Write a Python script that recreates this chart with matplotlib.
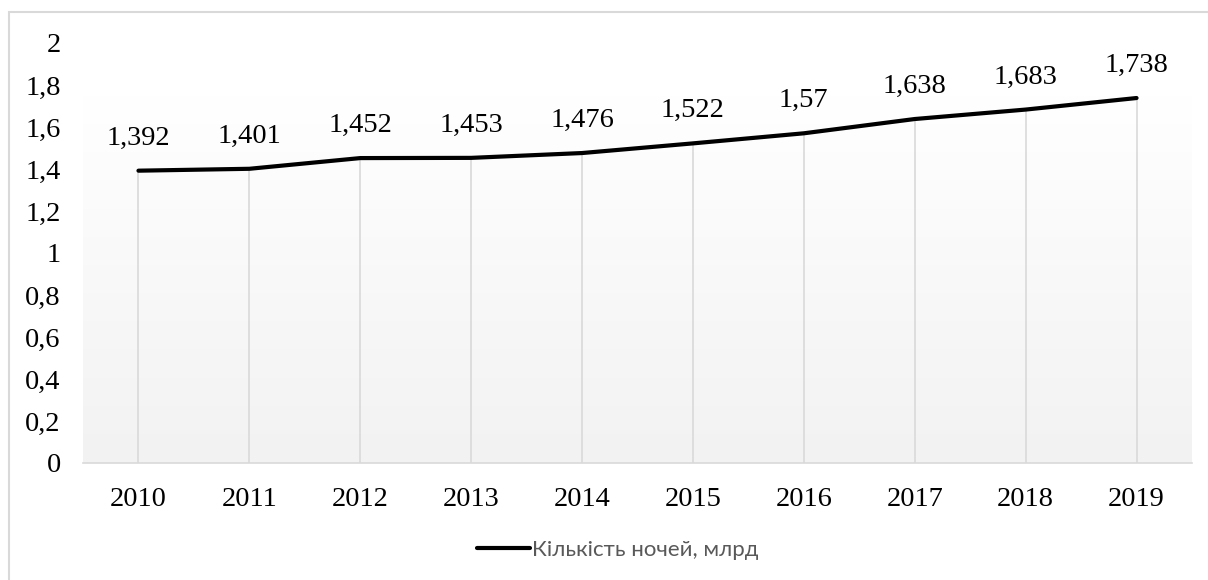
import matplotlib.pyplot as plt
import numpy as np
from matplotlib.patches import Rectangle
from matplotlib.ticker import FuncFormatter

years = ['2010', '2011', '2012', '2013', '2014', '2015', '2016', '2017', '2018', '2019']
nights = [1.392, 1.401, 1.452, 1.453, 1.476, 1.522, 1.57, 1.638, 1.683, 1.738]
labels = ['1,392', '1,401', '1,452', '1,453', '1,476', '1,522', '1,57', '1,638', '1,683', '1,738']
series_name = 'Кількість ночей, млрд'

fig = plt.figure(figsize=(12.08, 5.8), dpi=100)
# chart frame: only left and top edges fall inside the picture
fig.patches.append(Rectangle((8.5 / 1208, -0.05), 1.2, 1 - 11.5 / 580 + 0.05, transform=fig.transFigure,
                             fill=False, edgecolor='#d9d9d9', linewidth=1.5))
ax = fig.add_axes([83 / 1208, 1 - 463 / 580, 1109 / 1208, 420 / 580])

x = np.arange(len(years))
ax.set_xlim(-0.5, len(years) - 0.5)
ax.set_ylim(0, 2)

# gradient fill of the plot area: white at top -> light gray at bottom
grad = np.linspace(0, 1, 256).reshape(-1, 1)
ax.imshow(grad, extent=(-0.5, len(years) - 0.5, 0, 1.75), aspect='auto', origin='upper',
          cmap=plt.matplotlib.colors.LinearSegmentedColormap.from_list('g', ['#ffffff', '#f2f2f2']),
          zorder=0)

# drop lines
ax.vlines(x, 0, nights, color='#d9d9d9', linewidth=1.2, zorder=1)
ax.plot(x, nights, color='black', linewidth=3, solid_capstyle='round', label=series_name, zorder=3)

for xi, v, t in zip(x, nights, labels):
    ax.annotate(t, (xi, v), xytext=(0, 20), textcoords='offset pixels', ha='center', va='bottom',
                fontsize=20.5, family='Liberation Serif', color='black')

for s in ['top', 'right', 'left']:
    ax.spines[s].set_visible(False)
ax.spines['bottom'].set_color('#d9d9d9')
ax.spines['bottom'].set_linewidth(1.2)

ax.set_xticks(x)
ax.set_xticklabels(years)
ax.set_yticks(np.arange(0, 2.01, 0.2))
ax.yaxis.set_major_formatter(FuncFormatter(lambda v, p: ('%g' % round(v, 1)).replace('.', ',')))
ax.tick_params(length=0, labelsize=20.5, pad=17)
ax.tick_params(axis='y', pad=16)
for lab in ax.get_xticklabels() + ax.get_yticklabels():
    lab.set_family('Liberation Serif')

leg = ax.legend(loc='center', bbox_to_anchor=(0.5 - 20 / 1109, -(550 - 463) / 420), frameon=False,
                handlelength=2.4, handletextpad=0.1, prop={'family': 'Lato', 'size': 16})
for t in leg.get_texts():
    t.set_color('#595959')

fig.savefig('out.png', dpi=100)
